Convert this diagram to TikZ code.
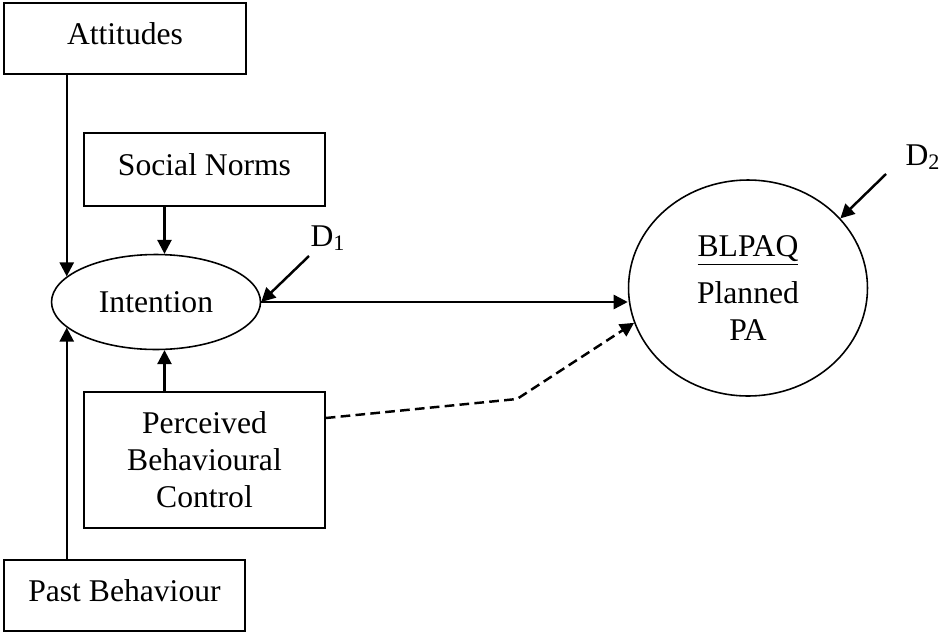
\documentclass[tikz,border=0pt]{standalone}
\usepackage{fontspec}
\setmainfont{Liberation Serif}
\usetikzlibrary{arrows.meta,shapes.geometric}
\tikzset{
  box/.style={rectangle,draw,line width=0.9pt,minimum width=4.82cm,align=center,inner sep=0pt},
  onebox/.style={box,text depth=0.2cm},
  oval/.style={ellipse,draw,line width=0.9pt,inner sep=0pt,align=center},
  conn/.style={line width=1.4pt,-{Triangle[length=0.28cm,width=0.28cm]}},
  dashconn/.style={conn,dash pattern=on 5.5pt off 3pt},
}
\begin{document}
\begin{tikzpicture}[x=0.02cm,y=-0.02cm,font=\fontsize{18}{21}\selectfont]
  \useasboundingbox (0,0) rectangle (942,632);
  \node[onebox,minimum width=4.84cm,minimum height=1.42cm] (att) at (125,38.5) {Attitudes};
  \node[onebox,minimum height=1.46cm] (soc) at (204.5,169.5) {Social Norms};
  \node[box,minimum height=2.72cm] (pbc) at (204.5,460) {Perceived\\Behavioural\\Control};
  \node[onebox,minimum height=1.42cm] (past) at (124.5,595.5) {Past Behaviour};
  \node[oval,minimum width=4.18cm,minimum height=1.9cm] (int) at (156,302) {Intention};
  \node[oval,minimum width=4.78cm,minimum height=4.32cm] (plan) at (748,288) {\underline{BLPAQ}\\[6pt]Planned\\PA};
  \node (d1lbl) at (328,238) {D\textsubscript{1}};
  \node (d2lbl) at (923,157) {D\textsubscript{2}};
  \coordinate (d1) at (309,256);
  \coordinate (d2) at (886,174);
  \coordinate (bend) at (517,399);

  \draw[conn] (int.164 |- att.south) -- (int.164);
  \draw[conn] (int.80 |- soc.south) -- (int.80);
  \draw[conn] (int.280 |- pbc.north) -- (int.280);
  \draw[conn] (int.196 |- past.north) -- (int.196);
  \draw[conn] (d1) -- (int.east);
  \draw[conn] (int.east) -- (int.east -| plan.west);
  \draw[conn] (d2) -- (plan.37);
  \draw[dashconn] ([yshift=0.84cm]pbc.east) -- (bend) -- (plan.197);
\end{tikzpicture}
\end{document}
